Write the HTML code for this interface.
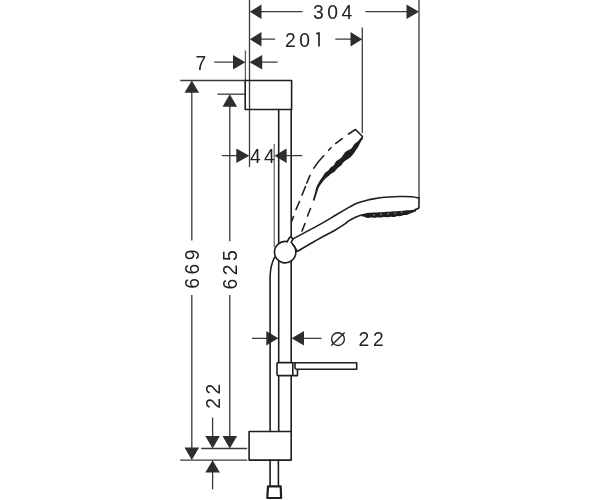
<!DOCTYPE html>
<html><head><meta charset="utf-8"><style>
html,body{margin:0;padding:0;background:#fff;}
svg{display:block;will-change:transform;}
text{font-family:"Liberation Sans",sans-serif;font-size:19.3px;fill:#222;stroke:none;}
</style></head><body>
<svg width="600" height="500" viewBox="0 0 600 500">
<g fill="none" stroke="#3a3a3a" stroke-width="1.3">
  <!-- extension lines -->
  <path d="M419 0V198"/>
  <path d="M249.5 0V167"/>
  <path d="M362.3 27.5V133"/>
  <path d="M245.4 50.5V80.5" stroke="#555" stroke-width="1.2"/>
  <path d="M180.2 80.5H245"/>
  <path d="M217.5 94.2H245"/>
  <path d="M201.2 448.5H247.2"/>
  <path d="M180.2 460.2H247.2"/>
  <path d="M274.2 144V247" stroke="#555" stroke-width="1.1"/>
  <!-- 304 -->
  <path d="M261 11.7H302.5M365.5 11.7H407"/>
  <!-- 201 -->
  <path d="M261 39.2H275M335.3 39.2H351"/>
  <!-- 7 -->
  <path d="M214.2 62.2H234M261 62.2H277.6"/>
  <!-- 44 -->
  <path d="M222 155.7H237M286 155.7H302.3"/>
  <!-- 669 -->
  <path d="M191.8 92V240.5M191.8 295V448"/>
  <!-- 625 -->
  <path d="M229.8 106V241.2M229.8 295V437"/>
  <!-- 22 -->
  <path d="M212.6 417.4V437M212.6 472V489.2"/>
  <!-- dia 22 -->
  <path d="M252 338.3H267M303 338.3H321.5"/>
</g>
<g fill="#2e2e2e" stroke="none">
  <path d="M249.8 11.7L261.5 4.4V19.0Z"/>
  <path d="M419 11.7L406.5 4.4V19.0Z"/>
  <path d="M249.8 39.2L261.5 31.9V46.5Z"/>
  <path d="M362.2 39.2L350.5 31.9V46.5Z"/>
  <path d="M245.3 62.2L233 54.9V69.5Z"/>
  <path d="M249.6 62.2L262.2 54.9V69.5Z"/>
  <path d="M249.3 155.7L236.3 148.4V163.0Z"/>
  <path d="M274.5 155.7L286.6 148.4V163.0Z"/>
  <path d="M191.8 80.5L184.5 92.8H199.1Z"/>
  <path d="M191.8 460L184.5 447.5H199.1Z"/>
  <path d="M229.8 94.2L222.5 106.7H237.1Z"/>
  <path d="M229.8 448.5L222.5 436H237.1Z"/>
  <path d="M212.6 448.5L205.3 436H219.9Z"/>
  <path d="M212.6 460.3L205.3 472.6H219.9Z"/>
  <path d="M278.3 338.3L266.3 331.0V345.6Z"/>
  <path d="M291.6 338.3L304 331.0V345.6Z"/>
</g>
<g fill="none" stroke="#1e1e1e" stroke-width="1.6" stroke-linejoin="round" stroke-linecap="round">
  <!-- top block -->
  <rect x="245.2" y="80.5" width="46.4" height="29"/>
  <!-- rail -->
  <path d="M278.7 109.5V242.5M291.2 109.5V236.8"/>
  <path d="M278.7 261.5V362.5M291.2 261.5V362.5"/>
  <path d="M278.7 375.5V431.5M291.2 375.5V431.5"/>
  <!-- circle with nub -->
  <path d="M287.2 241.6A10.7 10.7 0 1 0 293 244.8"/>
  <path d="M287.2 241.6L289.2 238L291.2 236.7L292.8 239"/>
  <!-- hose -->
  <path d="M274.6 257.2Q270.2 266 270.1 277V431.5"/>
  <path d="M270.1 460V485.6M278.4 460V485.6"/>
  <!-- bottom block -->
  <rect x="249.1" y="431.5" width="42.1" height="28.6"/>
  <!-- nut -->
  <path d="M268 486.4H280.7L281.1 498H267.3Z" stroke-width="2.2"/>
  <!-- soap dish -->
  <rect x="277" y="362.6" width="15.8" height="13" rx="1"/>
  <path d="M292.8 362.7H356.7V369.3H296.5Q295 369.1 295 367.6V362.7"/>
  <path d="M292.8 375.6H297.5V370"/>
  <!-- handle solid -->
  <path d="M292.8 239.0C297.3 236.6 313.0 228.3 320.0 224.4C327.0 220.5 330.8 218.0 335.0 215.5C339.2 213.0 342.3 211.2 345.0 209.6C347.7 208.0 348.7 207.4 351.0 206.2C353.3 205.0 356.3 203.6 359.0 202.6C361.7 201.6 364.3 200.9 367.0 200.2C369.7 199.5 372.0 199.1 375.0 198.6C378.0 198.1 380.8 197.7 385.0 197.3C389.2 197.0 395.5 196.6 400.0 196.5C404.5 196.4 408.8 196.5 412.0 196.8C415.2 197.1 417.8 198.0 419.0 198.2"/>
  <path d="M419 198V206.8Q419 209.2 415.5 209.4"/>
  <path d="M292.8 239L291.2 242.3Q294.5 246 297.2 251.4"/>
  <path d="M297.2 251.4C301.0 249.2 313.7 241.7 320.0 238.2C326.3 234.7 330.8 232.6 335.0 230.2C339.2 227.8 342.8 225.3 345.0 223.8C347.2 222.3 346.3 222.5 348.0 221.4C349.7 220.3 352.5 218.5 355.0 217.4C357.5 216.3 360.3 215.3 363.0 214.8C365.7 214.3 369.7 214.3 371.0 214.2"/>
  <!-- dashed head corner -->
  <path d="M348.5 134L355.5 129.5L362.5 136.5L361.6 139"/>
  <!-- outer dashes -->
  <path d="M342.2 138.6L335.8 143.4M331 147.8L328.6 150.2M323.8 155.8Q318 161.5 313.8 168.2M310 175.4L306.8 183M305.5 186.5L302 195M299.5 201.5L296 209.5M293.5 216.5L291.8 221"/>
  <!-- inner line + dashes -->
  <path d="M310.5 208.5L307.5 216M305 223.5L302 231"/>
</g>
<path fill="#1e1e1e" d="M361.08 137.43 L360.78 137.80 L360.38 138.31 L359.90 138.91 L359.36 139.57 L358.79 140.26 L358.20 140.92 L357.61 141.52 L357.03 142.03 L356.48 142.46 L355.94 142.85 L355.41 143.23 L354.92 143.61 L354.47 144.01 L354.07 144.45 L353.71 144.93 L353.38 145.46 L353.07 146.03 L352.77 146.59 L352.47 147.12 L352.14 147.61 L351.78 148.05 L351.37 148.45 L350.91 148.79 L350.40 149.09 L349.87 149.39 L349.31 149.67 L348.71 149.95 L348.08 150.25 L347.43 150.57 L346.77 150.95 L346.11 151.41 L345.48 151.94 L344.89 152.55 L344.33 153.25 L343.77 154.05 L343.21 154.90 L342.65 155.77 L342.05 156.62 L341.41 157.40 L340.72 158.10 L339.98 158.70 L339.18 159.22 L338.33 159.69 L337.50 160.15 L336.75 160.66 L336.12 161.27 L335.63 161.96 L335.21 162.73 L334.82 163.53 L334.41 164.30 L333.96 164.99 L333.44 165.58 L332.83 166.07 L332.18 166.48 L331.52 166.84 L330.92 167.21 L330.41 167.65 L329.98 168.19 L329.58 168.81 L329.18 169.45 L328.73 170.05 L328.22 170.59 L327.63 171.05 L326.98 171.45 L326.34 171.81 L325.75 172.18 L325.21 172.63 L324.75 173.18 L324.35 173.81 L323.97 174.47 L323.57 175.15 L323.15 175.81 L322.69 176.47 L322.23 177.13 L321.76 177.80 L321.30 178.49 L320.84 179.17 L320.40 179.86 L319.97 180.54 L319.57 181.20 L319.17 181.85 L318.78 182.50 L318.39 183.16 L318.01 183.82 L317.65 184.49 L317.30 185.16 L316.97 185.83 L316.67 186.51 L316.40 187.21 L316.17 187.90 L315.97 188.59 L315.80 189.27 L315.64 189.92 L315.50 190.55 L315.36 191.14 L315.22 191.71 L315.07 192.25 L314.93 192.77 L314.79 193.27 L314.65 193.75 L314.52 194.23 L314.39 194.71 L314.25 195.21 L314.10 195.73 L313.94 196.30 L313.76 196.92 L313.57 197.58 L313.38 198.24 L313.19 198.86 L313.03 199.42 L312.89 199.89 L312.79 200.25 L314.41 200.75 L314.53 200.40 L314.68 199.94 L314.87 199.38 L315.07 198.76 L315.29 198.12 L315.50 197.47 L315.71 196.84 L315.90 196.27 L316.06 195.76 L316.22 195.26 L316.38 194.78 L316.53 194.31 L316.68 193.83 L316.83 193.34 L317.00 192.84 L317.18 192.29 L317.37 191.70 L317.56 191.09 L317.74 190.48 L317.93 189.86 L318.12 189.24 L318.34 188.64 L318.57 188.06 L318.83 187.49 L319.13 186.92 L319.46 186.34 L319.82 185.76 L320.21 185.18 L320.62 184.59 L321.05 184.00 L321.49 183.40 L321.93 182.80 L322.39 182.20 L322.86 181.59 L323.34 180.97 L323.83 180.36 L324.32 179.77 L324.82 179.20 L325.32 178.66 L325.82 178.16 L326.32 177.72 L326.84 177.32 L327.38 176.96 L327.91 176.60 L328.43 176.21 L328.92 175.77 L329.40 175.28 L329.87 174.78 L330.35 174.30 L330.87 173.88 L331.46 173.49 L332.09 173.13 L332.76 172.78 L333.44 172.39 L334.10 171.93 L334.72 171.40 L335.28 170.79 L335.80 170.16 L336.32 169.54 L336.86 168.94 L337.44 168.37 L338.06 167.85 L338.71 167.36 L339.39 166.87 L340.08 166.35 L340.74 165.78 L341.34 165.15 L341.88 164.46 L342.41 163.74 L342.93 163.03 L343.49 162.35 L344.10 161.72 L344.78 161.13 L345.53 160.57 L346.34 160.03 L347.17 159.50 L348.00 158.97 L348.81 158.44 L349.57 157.88 L350.26 157.31 L350.86 156.76 L351.42 156.20 L351.94 155.64 L352.44 155.06 L352.93 154.48 L353.40 153.88 L353.87 153.28 L354.32 152.66 L354.73 152.02 L355.12 151.40 L355.48 150.81 L355.84 150.25 L356.19 149.72 L356.54 149.23 L356.90 148.75 L357.26 148.28 L357.62 147.80 L357.96 147.30 L358.27 146.78 L358.55 146.25 L358.82 145.69 L359.08 145.11 L359.35 144.51 L359.64 143.88 L359.99 143.21 L360.39 142.46 L360.84 141.69 L361.30 140.92 L361.74 140.19 L362.14 139.53 L362.47 138.98 L362.72 138.57Z"/>
<path fill="#1e1e1e" d="M361.53 216.20 L362.14 216.34 L362.91 216.51 L363.82 216.72 L364.87 217.02 L366.04 217.50 L367.32 218.05 L368.68 218.00 L370.10 217.59 L371.70 217.44 L373.54 217.80 L375.50 217.70 L377.52 217.21 L379.59 217.47 L381.59 217.57 L383.45 217.05 L385.13 217.03 L386.64 217.35 L388.00 217.33 L389.26 216.96 L390.45 216.72 L391.64 216.76 L392.83 217.00 L394.04 217.09 L395.27 216.74 L396.53 216.25 L397.84 216.04 L399.20 216.13 L400.54 216.12 L401.80 215.66 L403.01 215.15 L404.19 214.91 L405.33 214.93 L406.41 214.98 L407.42 214.79 L408.34 214.36 L409.20 213.89 L410.03 213.52 L410.83 213.24 L411.59 213.00 L412.31 212.77 L413.00 212.54 L413.65 212.30 L414.25 212.06 L414.80 211.83 L415.28 211.61 L415.70 211.42 L416.04 211.27 L416.31 211.15 L415.69 209.25 L415.39 209.32 L415.01 209.41 L414.57 209.51 L414.08 209.62 L413.54 209.74 L412.96 209.84 L412.34 209.94 L411.69 210.03 L410.99 210.10 L410.24 210.17 L409.43 210.23 L408.58 210.28 L407.68 210.31 L406.73 210.37 L405.75 210.47 L404.72 210.60 L403.62 210.74 L402.43 210.83 L401.19 210.89 L399.91 210.95 L398.61 211.07 L397.31 211.19 L396.03 211.26 L394.77 211.27 L393.58 211.31 L392.44 211.44 L391.32 211.57 L390.18 211.66 L388.99 211.71 L387.73 211.73 L386.36 211.82 L384.88 211.97 L383.20 212.08 L381.33 212.13 L379.34 212.27 L377.30 212.44 L375.26 212.49 L373.30 212.60 L371.50 212.76 L369.90 212.83 L368.48 212.85 L367.13 212.91 L365.89 213.27 L364.76 213.64 L363.74 213.94 L362.84 214.20 L362.08 214.42 L361.47 214.60Z"/>
<g fill="#9a9a9a">
  <circle cx="374" cy="215" r="0.8"/>
  <circle cx="381" cy="214.4" r="0.8"/>
  <circle cx="388" cy="213.8" r="0.8"/>
  <circle cx="395" cy="213.1" r="0.8"/>
  <circle cx="401.5" cy="212.3" r="0.8"/>
</g>
<g>
  <text x="313" y="19" letter-spacing="3.5">304</text>
  <text x="285" y="46.6" letter-spacing="3.6">20</text>
  <path d="M316.2 33.7L318.4 33.1H319V46.6" fill="none" stroke="#262626" stroke-width="1.7"/>
  <text x="195.5" y="69.6">7</text>
  <text x="250" y="163" letter-spacing="3.3">44</text>
  <circle cx="338" cy="339.1" r="6.4" fill="none" stroke="#222" stroke-width="1.4"/>
  <path d="M331.3 345.5L344.7 332.6" stroke="#222" stroke-width="1.4" fill="none"/>
  <text x="358.4" y="345.8" letter-spacing="4">22</text>
  <text transform="translate(198.8 288.75) rotate(-90)" letter-spacing="3.5">669</text>
  <text transform="translate(237 289.5) rotate(-90)" letter-spacing="3.5">625</text>
  <text transform="translate(220.2 408.8) rotate(-90)" letter-spacing="3.5">22</text>
</g>
</svg>
</body></html>
